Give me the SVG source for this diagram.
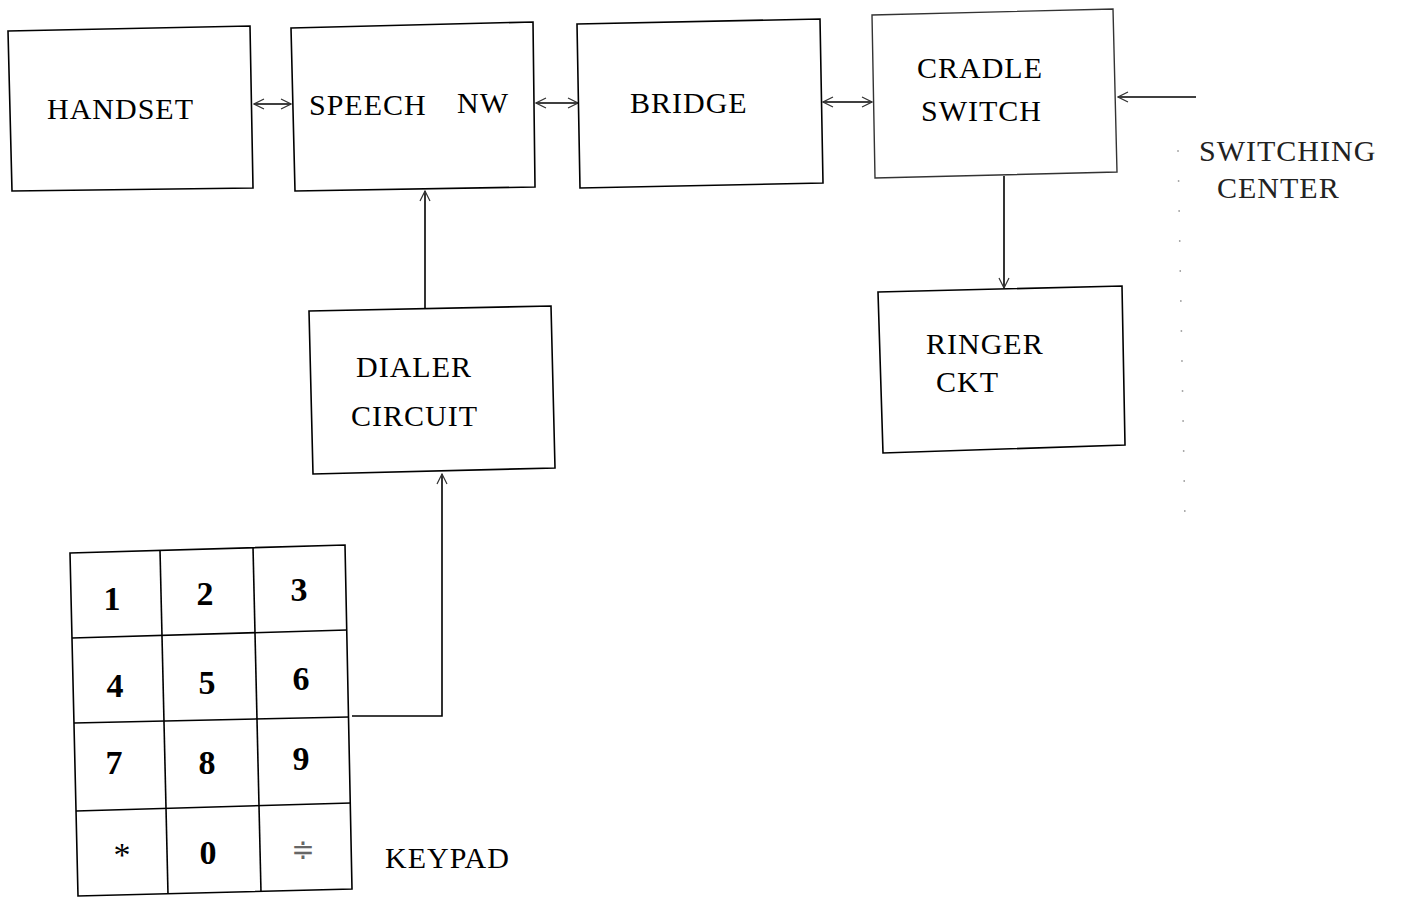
<svg xmlns="http://www.w3.org/2000/svg" width="1404" height="898" viewBox="0 0 1404 898">
<style>
.box{fill:#fff;stroke:#000;stroke-width:1.6}
.faint{fill:#fff;stroke:#333;stroke-width:1.4}
.ln{fill:none;stroke:#000;stroke-width:1.6}
.t{font-family:"Liberation Serif","Times New Roman","DejaVu Serif",serif;font-size:30px;fill:#000;letter-spacing:1px}
.k{font-family:"Liberation Serif","Times New Roman","DejaVu Serif",serif;font-size:34px;font-weight:bold;fill:#000;text-anchor:middle}
</style>
<defs>
<marker id="ah" viewBox="0 0 12 12" refX="11" refY="6" markerWidth="12" markerHeight="12" markerUnits="userSpaceOnUse" orient="auto-start-reverse">
<polyline points="1,1 11,6 1,11" fill="none" stroke="#333" stroke-width="1.2"/>
</marker>
</defs>
<rect width="1404" height="898" fill="#fff"/>
<g id="connectors">
<line class="ln" x1="254" y1="104" x2="291" y2="104" marker-start="url(#ah)" marker-end="url(#ah)"/>
<line class="ln" x1="536" y1="103" x2="578" y2="103" marker-start="url(#ah)" marker-end="url(#ah)"/>
<line class="ln" x1="823" y1="102" x2="872" y2="102" marker-start="url(#ah)" marker-end="url(#ah)"/>
<line class="ln" x1="1196" y1="97" x2="1118" y2="97" marker-end="url(#ah)"/>
<line class="ln" x1="425" y1="308" x2="425" y2="191" marker-end="url(#ah)"/>
<polyline class="ln" points="352,716 442,716 442,474" marker-end="url(#ah)"/>
<line class="ln" x1="1004" y1="176" x2="1004" y2="288" marker-end="url(#ah)"/>
<line x1="1178" y1="150" x2="1185" y2="522" stroke="#aaa" stroke-width="1.5" stroke-dasharray="2 28"/>
</g>
<g id="handset">
<polygon class="box" points="8,31 250,26 253,188 12,191"/>
<text class="t" x="47" y="119">HANDSET</text>
</g>
<g id="speech">
<polygon class="box" points="291,28 533,22 535,187 295,191"/>
<text class="t" x="309" y="115">SPEECH</text>
<text class="t" x="457" y="113">NW</text>
</g>
<g id="bridge">
<polygon class="box" points="577,24 820,19 823,183 580,188"/>
<text class="t" x="630" y="113">BRIDGE</text>
</g>
<g id="cradle">
<polygon class="faint" points="872,15 1113,9 1117,172 875,178"/>
<text class="t" x="917" y="78">CRADLE</text>
<text class="t" x="921" y="121">SWITCH</text>
</g>
<g id="ringer">
<polygon class="box" points="878,292 1122,286 1125,445 883,453"/>
<text class="t" x="926" y="354">RINGER</text>
<text class="t" x="936" y="392">CKT</text>
</g>
<g id="dialer">
<polygon class="box" points="309,311 551,306 555,468 313,474"/>
<text class="t" x="356" y="377">DIALER</text>
<text class="t" x="351" y="426">CIRCUIT</text>
</g>
<g id="keypad">
<polygon class="box" points="70,553 345,545 352,889 78,896"/>
<line class="ln" x1="72" y1="638" x2="347" y2="630"/>
<line class="ln" x1="74" y1="723" x2="349" y2="717"/>
<line class="ln" x1="76" y1="811" x2="351" y2="803"/>
<line class="ln" x1="160" y1="550" x2="168" y2="894"/>
<line class="ln" x1="253" y1="547" x2="261" y2="892"/>
<text class="k" x="112" y="610">1</text>
<text class="k" x="205" y="605">2</text>
<text class="k" x="299" y="601">3</text>
<text class="k" x="115" y="697">4</text>
<text class="k" x="207" y="694">5</text>
<text class="k" x="301" y="690">6</text>
<text class="k" x="114" y="774">7</text>
<text class="k" x="207" y="774">8</text>
<text class="k" x="301" y="770">9</text>
<text class="k" x="122" y="866" style="font-weight:normal">*</text>
<text class="k" x="208" y="864">0</text>
<text class="k" x="303" y="859" style="font-weight:normal;fill:#666;font-family:'DejaVu Sans',sans-serif;font-size:28px">≑</text>
<text class="t" x="385" y="868">KEYPAD</text>
</g>
<g id="switching-center">
<text class="t" x="1199" y="161" style="fill:#222">SWITCHING</text>
<text class="t" x="1217" y="198" style="fill:#222">CENTER</text>
</g>
</svg>
